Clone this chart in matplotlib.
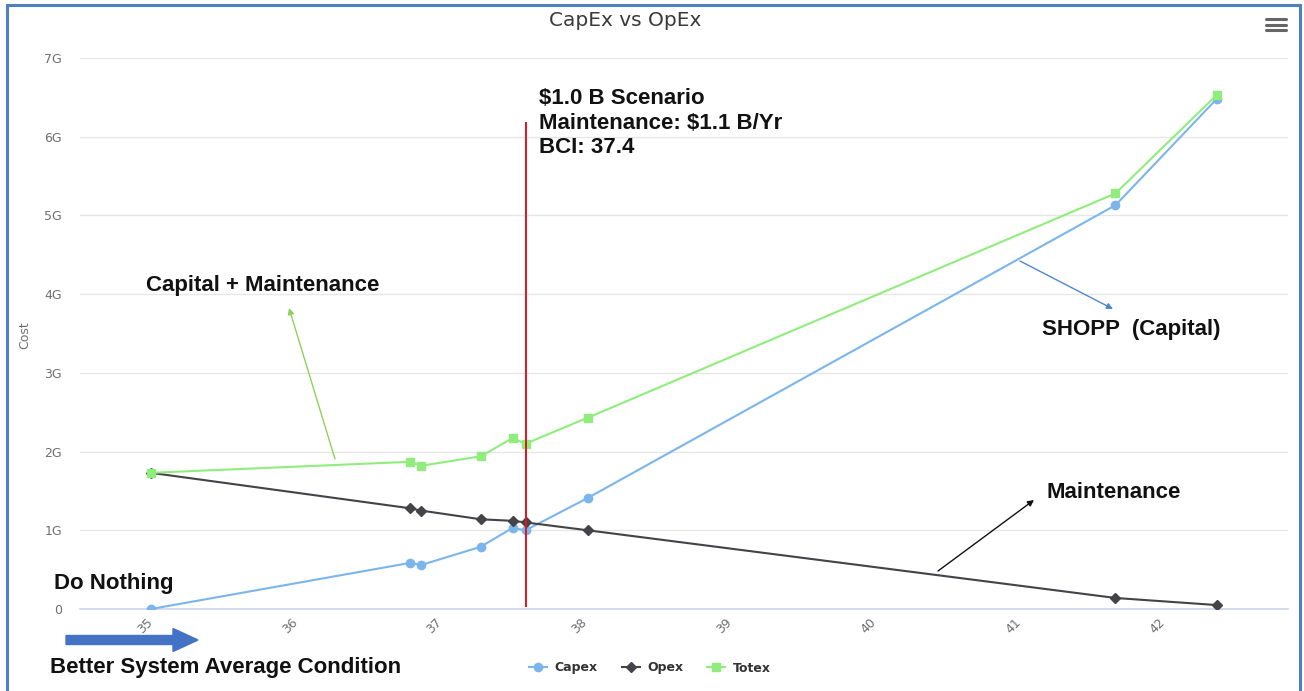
import matplotlib
matplotlib.use("Agg")
import matplotlib.pyplot as plt
from matplotlib.lines import Line2D
from matplotlib.patches import FancyArrow, Rectangle

# Bridge condition index (x) and cost series in billions (y)
bci = [35.0, 36.79, 36.87, 37.28, 37.50, 37.59, 38.02, 41.67, 42.37]
capex = [0.0, 0.585, 0.56, 0.79, 1.03, 1.0, 1.41, 5.13, 6.48]
opex = [1.73, 1.28, 1.25, 1.14, 1.12, 1.1, 1.00, 0.14, 0.05]
totex = [1.73, 1.87, 1.82, 1.94, 2.17, 2.1, 2.43, 5.28, 6.53]

series_names = ["Capex", "Opex", "Totex"]
x_ticks = [35, 36, 37, 38, 39, 40, 41, 42]
y_ticks = [0, 1, 2, 3, 4, 5, 6, 7]
y_tick_labels = ["0", "1G", "2G", "3G", "4G", "5G", "6G", "7G"]
scenario_idx = 5

W, H = 1304, 691
C_CAP, C_OPE, C_TOT = "#7cb5ec", "#434348", "#90ed7d"

fig = plt.figure(figsize=(W / 100, H / 100), dpi=100)
fig.patch.set_facecolor("white")

ax = fig.add_axes([80 / W, (H - 609) / H, (1288 - 80) / W, (609 - 58) / H])
ax.set_xlim(34.509, 42.863)
ax.set_ylim(0, 7)

ax.plot(bci, capex, color=C_CAP, lw=1.5, marker="o", ms=6, zorder=3, label=series_names[0])
ax.plot(bci, opex, color=C_OPE, lw=1.5, marker="D", ms=4.6, zorder=4, label=series_names[1])
ax.plot(bci, totex, color=C_TOT, lw=1.5, marker="s", ms=6, zorder=5, label=series_names[2])

# Scenario marker line
ax.vlines(bci[scenario_idx], 0.03, 6.19, color="#e3141b", lw=1.4, zorder=6)

# Axes styling
for s in ["top", "right", "left"]:
    ax.spines[s].set_visible(False)
ax.spines["bottom"].set_color("#ccd6eb")
ax.spines["bottom"].set_linewidth(1.2)
ax.set_yticks(y_ticks)
ax.set_yticklabels(y_tick_labels)
ax.set_xticks(x_ticks)
ax.set_xticklabels([str(t) for t in x_ticks])
ax.grid(axis="y", color="#e6e6e6", lw=1)
ax.set_axisbelow(True)
ax.tick_params(axis="y", length=0, pad=13, labelsize=9, labelcolor="#6e6e6e")
ax.tick_params(axis="x", length=0, pad=8, labelsize=9, labelcolor="#6e6e6e")
for lab in ax.get_yticklabels():
    lab.set_fontfamily("DejaVu Sans")
for lab in ax.get_xticklabels():
    lab.set_rotation(45)
    lab.set_ha("right")
    lab.set_va("center")
    lab.set_rotation_mode("anchor")
    lab.set_fontfamily("DejaVu Sans")


def fx(x):
    return x / W


def fy(y):
    return 1 - y / H


# Y axis title and chart title
fig.text(fx(25), fy(335), "Cost", rotation=90, ha="center", va="center",
         fontsize=9, color="#6e6e6e", family="DejaVu Sans")
fig.text(fx(625), fy(21), "CapEx vs OpEx", ha="center", va="center",
         fontsize=14.5, color="#3a3a3a", family="DejaVu Sans")

# Menu icon
for yy in (19, 24.5, 30):
    fig.add_artist(Line2D([1266 / 100, 1286 / 100], [(H - yy) / 100] * 2,
                          transform=fig.dpi_scale_trans, color="#666666",
                          lw=2.2, solid_capstyle="round"))

# Legend
handles = [
    Line2D([], [], color=C_CAP, lw=1.5, marker="o", ms=6),
    Line2D([], [], color=C_OPE, lw=1.5, marker="D", ms=4.6),
    Line2D([], [], color=C_TOT, lw=1.5, marker="s", ms=6),
]
fig.legend(handles, series_names, loc="center", bbox_to_anchor=(fx(650), fy(668)),
           ncol=3, frameon=False, handlelength=1.45, handletextpad=0.6,
           columnspacing=1.9, prop={"family": "DejaVu Sans", "weight": "bold", "size": 9},
           labelcolor="#333333")

# Annotations
bold = dict(family="Liberation Sans", weight="bold", fontsize=16, color="#111111")
fig.text(fx(539), fy(88), "$1.0 B Scenario\nMaintenance: $1.1 B/Yr\nBCI: 37.4",
         ha="left", va="top", linespacing=1.22, **bold)
fig.text(fx(263), fy(285), "Capital + Maintenance", ha="center", va="center", **bold)
fig.text(fx(1131), fy(330), "SHOPP  (Capital)", ha="center", va="center", **bold)
fig.text(fx(1114), fy(493), "Maintenance", ha="center", va="center", **bold)
fig.text(fx(114), fy(584), "Do Nothing", ha="center", va="center", **bold)
fig.text(fx(226), fy(667), "Better System Average Condition", ha="center", va="center", **bold)


def pointer(x0, y0, x1, y1, color):
    ax.annotate("", xy=(x1, H - y1), xytext=(x0, H - y0), xycoords="figure pixels",
                textcoords="figure pixels", annotation_clip=False,
                arrowprops=dict(arrowstyle="-|>", color=color, lw=1.0,
                                mutation_scale=9, shrinkA=0, shrinkB=0))


pointer(335, 459, 289, 308, "#8fd05a")
pointer(1020, 261, 1113, 309, "#4f86d0")
pointer(938, 571, 1034, 500, "#111111")

# Direction arrow
fig.add_artist(FancyArrow(66 / 100, (H - 640) / 100, 132 / 100, 0, width=0.09,
                          head_width=0.23, head_length=0.25, length_includes_head=True,
                          color="#4472c4", transform=fig.dpi_scale_trans))

# Frame
fig.add_artist(Rectangle((7 / 100, -0.2), (1300 - 7) / 100, (H - 5) / 100 + 0.2,
                         fill=False, edgecolor="#4f81bd", lw=2.2,
                         transform=fig.dpi_scale_trans))

fig.savefig("out.png", dpi=100)
